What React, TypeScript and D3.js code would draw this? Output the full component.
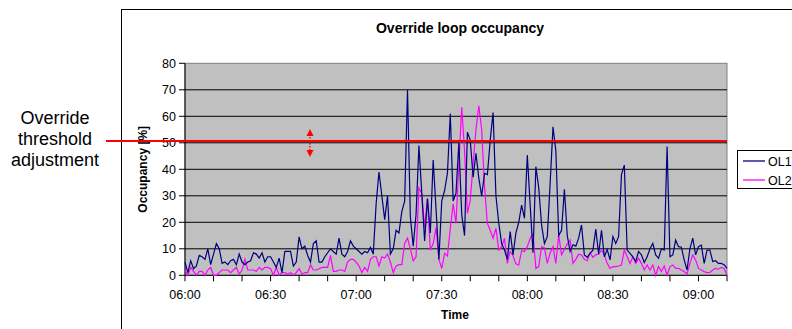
import React from "react";
import * as d3 from "d3";

// minutes after 06:00, one reading per minute
const ol1 = [
  5, 1, 5.5, 2.5, 3.5, 7.5, 7, 6, 10, 4, 8, 12, 10, 4.5, 5, 4, 5.5, 6, 4, 8,
  5, 4, 5, 5.5, 8.5, 8, 6.5, 8.5, 5, 7, 7, 5, 3, 6.5, 1, 9, 9, 9, 3.5, 5,
  14.5, 10, 11, 7.5, 5, 12, 13, 5, 5, 7, 8.5, 10, 9, 8, 14, 8, 7, 9, 13, 11,
  10, 9, 8, 9, 8.5, 10.5, 8, 27, 39, 30, 21, 30, 8, 10, 17, 16, 24, 28, 70, 22,
  11, 23, 49, 31, 13, 29, 16, 43.5, 25, 6, 28, 32, 38.5, 61, 28, 31, 50, 23, 15, 54,
  51, 37, 46, 36.6, 30, 38.5, 38, 51, 61.4, 30, 19.6, 12, 9.5, 6, 16.5, 7.7, 16, 20, 26.5, 21.5,
  45.4, 26.5, 8.5, 41, 33, 19, 12, 14.6, 34.7, 56, 47, 15, 17, 32.5, 15, 9, 11.5, 11, 14, 19,
  7.7, 6.8, 8.3, 9.5, 17.4, 8, 17, 7, 9.8, 5.8, 14.6, 12, 14.6, 38, 41.6, 9.5, 8.3, 7, 5.2, 9,
  7.7, 4.8, 7, 10, 12, 7.7, 6.4, 10, 9.5, 48.6, 7, 7.7, 13.3, 10.8, 10.6, 5.8, 2, 10, 14, 7.7,
  10.8, 11.4, 4.5, 9.5, 9.5, 5.2, 5.5, 4.5, 4.5, 4, 2.6,
];
const ol2 = [
  2, 0, 3, 1.5, 0, 1.5, 1.5, 0, 2, 3, 0, 0, 1, 2, 2, 2, 1, 2, 3, 0.5,
  2, 6, 2, 2, 2, 1.5, 3, 2, 3, 3, 2.5, 0, 3, 0, 1, 1, 0.5, 1, 0, 1,
  2.5, 0.5, 1, 1, 4, 2, 2, 2.5, 3, 3, 3, 7.5, 1.5, 1.5, 2, 2, 1.5, 5, 6, 6,
  5, 3.5, 1, 3, 1.5, 6, 7, 7, 3.5, 7, 6.5, 8, 5, 1, 3.5, 4, 4, 12, 14, 10,
  5.5, 7, 33, 31, 18, 29, 9.5, 12, 18, 6, 2.6, 8.3, 7.3, 17.7, 27, 19.6, 41.6, 63.4, 47, 23.4,
  28.4, 42, 55, 64, 55, 33.5, 19.6, 17, 14, 17.7, 9.5, 10.8, 14, 4.5, 9, 7.4, 4.3, 3.9, 9.3, 9,
  10.8, 14, 15.8, 2.6, 3.3, 10.8, 10.4, 4.5, 8.3, 10.8, 4.5, 15.2, 7.7, 9.8, 11.8, 13.3, 4.5, 6, 8, 7.7,
  6, 5.5, 8.5, 6.8, 7.7, 8, 9.5, 7.7, 4.5, 2.6, 3.3, 3.3, 3.5, 3.9, 9.5, 7, 4.5, 7, 4.5, 6.4,
  4.5, 2, 3.9, 2, 3.9, 0, 3.3, 1.4, 3.5, 0, 3.3, 3.9, 2.6, 2.6, 2, 1.4, 0.5, 4.5, 7.7, 5.8,
  2.6, 2, 1.4, 1, 1.1, 2, 2.6, 2.3, 3, 2.6, 0,
];
const timeLabels = ["06:00", "06:30", "07:00", "07:30", "08:00", "08:30", "09:00"];
const yTicks = [0, 10, 20, 30, 40, 50, 60, 70, 80];
const threshold = 50.7;

const W = 792;
const H = 329;
const PLOT = { left: 185, right: 727, top: 63.3, bottom: 275.3 };
const FONT = "Liberation Sans, Arial, sans-serif";

export default function App() {
  const x = d3.scaleLinear().domain([0, 190]).range([PLOT.left, PLOT.right]);
  const y = d3.scaleLinear().domain([0, 80]).range([PLOT.bottom, PLOT.top]);
  const line = d3
    .line<number>()
    .x((d, i) => x(i))
    .y((d) => y(d));
  const minuteTicks = d3.range(0, 191, 10);
  const arrowX = 310;

  return (
    <svg
      width={W}
      height={H}
      style={{ position: "absolute", left: 0, top: 0, background: "#fff" }}
      fontFamily={FONT}
    >
      {/* chart frame, runs past the bottom and right edges */}
      <rect x={121.5} y={9.5} width={700} height={340} fill="#fff" stroke="#000" strokeWidth={1} />

      <text x={460} y={33} textAnchor="middle" fontSize={14} fontWeight="bold">
        Override loop occupancy
      </text>

      {/* plot area */}
      <rect
        x={PLOT.left}
        y={PLOT.top}
        width={PLOT.right - PLOT.left}
        height={PLOT.bottom - PLOT.top}
        fill="#c0c0c0"
        stroke="#808080"
      />
      {yTicks.slice(1, -1).map((t) => (
        <line key={t} x1={PLOT.left} x2={PLOT.right} y1={y(t)} y2={y(t)} stroke="#000" />
      ))}

      {/* y axis */}
      <line x1={PLOT.left} x2={PLOT.left} y1={PLOT.top} y2={PLOT.bottom} stroke="#000" />
      {yTicks.map((t) => (
        <g key={t}>
          <line x1={PLOT.left - 6} x2={PLOT.left} y1={y(t)} y2={y(t)} stroke="#000" />
          <text x={PLOT.left - 9} y={y(t) + 4.5} textAnchor="end" fontSize={12.5}>
            {t}
          </text>
        </g>
      ))}
      <text
        transform={`translate(147,${(PLOT.top + PLOT.bottom) / 2}) rotate(-90)`}
        textAnchor="middle"
        fontSize={12}
        fontWeight="bold"
      >
        Occupancy [%]
      </text>

      {/* x axis */}
      <line x1={PLOT.left} x2={PLOT.right} y1={PLOT.bottom} y2={PLOT.bottom} stroke="#000" />
      {minuteTicks.map((m) => (
        <line key={m} x1={x(m)} x2={x(m)} y1={PLOT.bottom} y2={PLOT.bottom + 6} stroke="#000" />
      ))}
      {timeLabels.map((lab, i) => (
        <text key={lab} x={x(i * 30)} y={299} textAnchor="middle" fontSize={12.5}>
          {lab}
        </text>
      ))}
      <text x={455} y={319} textAnchor="middle" fontSize={12} fontWeight="bold">
        Time
      </text>

      {/* series */}
      <path d={line(ol2) ?? ""} fill="none" stroke="#ff00ff" strokeWidth={1.2} />
      <path d={line(ol1) ?? ""} fill="none" stroke="#000080" strokeWidth={1.2} />

      {/* threshold annotation */}
      <line x1={106} x2={PLOT.right} y1={y(threshold)} y2={y(threshold)} stroke="#ff0000" strokeWidth={2} />
      <line
        x1={arrowX}
        x2={arrowX}
        y1={134}
        y2={152}
        stroke="#ff0000"
        strokeWidth={1.5}
        strokeDasharray="1.5,1.5"
      />
      <path d={`M${arrowX},129 L${arrowX - 3.5},136 L${arrowX + 3.5},136 Z`} fill="#ff0000" />
      <path d={`M${arrowX},157 L${arrowX - 3.5},150 L${arrowX + 3.5},150 Z`} fill="#ff0000" />
      <text x={55} textAnchor="middle" fontSize={18} fill="#000">
        <tspan x={55} y={124}>Override</tspan>
        <tspan x={55} y={145}>threshold</tspan>
        <tspan x={55} y={166}>adjustment</tspan>
      </text>

      {/* legend */}
      <rect x={737.5} y={150.5} width={80} height={38} fill="#fff" stroke="#000" />
      <line x1={743} x2={765} y1={161} y2={161} stroke="#000080" strokeWidth={1.3} />
      <text x={768} y={165.5} fontSize={12.5}>OL1</text>
      <line x1={743} x2={765} y1={180} y2={180} stroke="#ff00ff" strokeWidth={1.3} />
      <text x={768} y={184.5} fontSize={12.5}>OL2</text>
    </svg>
  );
}
